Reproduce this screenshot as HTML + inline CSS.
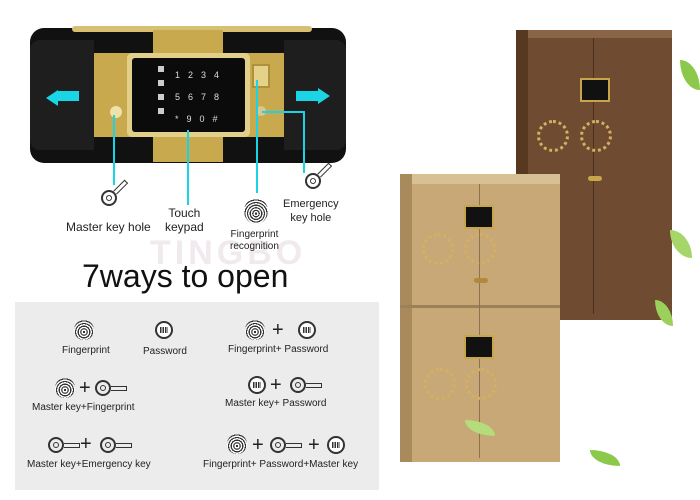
<!DOCTYPE html>
<html><head><style>
body{margin:0;width:700px;height:500px;background:#fff;position:relative;overflow:hidden;font-family:"Liberation Sans",sans-serif;color:#222}
.a{position:absolute}
.t{position:absolute;font-size:11px;white-space:nowrap;text-align:center}
.fp{position:absolute;width:20px;height:20px;border-radius:50%;background:repeating-radial-gradient(circle at 50% 60%,#333 0 1.2px,#fff 1.2px 2.6px)}
.pw{position:absolute;width:18px;height:18px;border-radius:50%;border:2px solid #333;box-sizing:border-box;background:#fff}
.pw:after{content:"";position:absolute;left:3px;top:4px;width:8px;height:6px;background:repeating-linear-gradient(90deg,#333 0 1.5px,#fff 1.5px 2.5px)}
.ky{position:absolute;width:16px;height:16px;border-radius:50%;border:2px solid #333;box-sizing:border-box}
.ky:before{content:"";position:absolute;left:3px;top:3px;width:6px;height:6px;border-radius:50%;border:1.5px solid #333;box-sizing:border-box}
.ky:after{content:"";position:absolute;left:14px;top:4px;width:16px;height:5px;border:1.5px solid #333;border-left:none;box-sizing:border-box}
.pl{position:absolute;font-size:20px;line-height:20px}
.cy{position:absolute;background:#19d3e6}
</style></head><body>
<div class="a" style="left:30px;top:28px;width:316px;height:135px;background:#111;border-radius:14px"></div>
<div class="a" style="left:30px;top:40px;width:64px;height:110px;background:#1e1e1e;border-radius:10px 0 0 10px"></div>
<div class="a" style="left:284px;top:40px;width:62px;height:110px;background:#1e1e1e;border-radius:0 10px 10px 0"></div>
<div class="a" style="left:72px;top:26px;width:240px;height:6px;background:#d8c072;border-radius:3px"></div>
<div class="a" style="left:94px;top:53px;width:190px;height:84px;background:#c9a94e"></div>
<div class="a" style="left:153px;top:30px;width:70px;height:132px;background:#c9a94e"></div>
<div class="a" style="left:127px;top:53px;width:123px;height:84px;background:#e2d08a;border-radius:5px"></div>
<div class="a" style="left:132px;top:58px;width:113px;height:74px;background:#0b0b0b;border-radius:3px"></div>
<div class="a" style="left:175px;top:64px;color:#ddd;font-size:9px;line-height:22px;letter-spacing:8px">1234<br>5678<br>*90#</div>
<div class="a" style="left:158px;top:66px;width:6px;height:50px;background:repeating-linear-gradient(#ccc 0 6px,#0b0b0b 6px 14px)"></div>
<div class="a" style="left:252px;top:64px;width:14px;height:20px;background:#e5d28a;border:2px solid #b0903a"></div>
<div class="a" style="left:110px;top:106px;width:12px;height:12px;border-radius:50%;background:#eee2a8"></div>
<div class="a" style="left:256px;top:106px;width:10px;height:10px;border-radius:50%;background:#d9c88a"></div>
<div class="a" style="left:46px;top:90px;width:0;height:0;border:8px solid transparent;border-right:12px solid #1ad5e6;border-left:none"></div>
<div class="a" style="left:57px;top:91px;width:22px;height:10px;background:#1ad5e6"></div>
<div class="a" style="left:296px;top:91px;width:22px;height:10px;background:#1ad5e6"></div>
<div class="a" style="left:318px;top:88px;width:0;height:0;border:8px solid transparent;border-left:12px solid #1ad5e6;border-right:none"></div>
<div class="cy" style="left:113px;top:115px;width:2px;height:70px"></div>
<div class="cy" style="left:187px;top:130px;width:2px;height:75px"></div>
<div class="cy" style="left:256px;top:80px;width:2px;height:113px"></div>
<div class="cy" style="left:262px;top:111px;width:42px;height:2px"></div>
<div class="cy" style="left:303px;top:111px;width:2px;height:62px"></div>
<div class="t" style="left:150px;top:234px;font-size:34px;color:#f0eaee;font-weight:bold;letter-spacing:4px">TINGBO</div>
<div class="ky" style="left:101px;top:190px;transform:rotate(-45deg)"></div>
<div class="t" style="left:66px;top:220px;font-size:12px">Master key hole</div>
<div class="t" style="left:165px;top:206px;font-size:12px;line-height:14px">Touch<br>keypad</div>
<div class="fp" style="left:244px;top:198px;width:24px;height:26px"></div>
<div class="t" style="left:230px;top:229px;font-size:10px;line-height:12px">Fingerprint<br>recognition</div>
<div class="ky" style="left:305px;top:173px;transform:rotate(-45deg)"></div>
<div class="t" style="left:283px;top:197px;font-size:11px;line-height:14px">Emergency<br>key hole</div>
<div class="t" style="left:82px;top:258px;font-size:32px;color:#111">7ways to open</div>
<div class="a" style="left:15px;top:302px;width:364px;height:188px;background:#ececec"></div>
<div class="fp" style="left:74px;top:320px"></div><div class="t" style="left:62px;top:345px;font-size:10px">Fingerprint</div>
<div class="pw" style="left:155px;top:321px"></div><div class="t" style="left:143px;top:346px;font-size:10px">Password</div>
<div class="fp" style="left:245px;top:320px"></div><div class="pl" style="left:272px;top:320px">+</div><div class="pw" style="left:298px;top:321px"></div>
<div class="t" style="left:228px;top:344px;font-size:10px">Fingerprint+ Password</div>
<div class="fp" style="left:55px;top:378px"></div><div class="pl" style="left:79px;top:378px">+</div><div class="ky" style="left:95px;top:380px"></div>
<div class="t" style="left:32px;top:402px;font-size:10px">Master key+Fingerprint</div>
<div class="pw" style="left:248px;top:376px"></div><div class="pl" style="left:270px;top:375px">+</div><div class="ky" style="left:290px;top:377px"></div>
<div class="t" style="left:225px;top:398px;font-size:10px">Master key+ Password</div>
<div class="ky" style="left:48px;top:437px"></div><div class="pl" style="left:80px;top:434px">+</div><div class="ky" style="left:100px;top:437px"></div>
<div class="t" style="left:27px;top:459px;font-size:10px">Master key+Emergency key</div>
<div class="fp" style="left:227px;top:434px"></div><div class="pl" style="left:252px;top:435px">+</div><div class="ky" style="left:270px;top:437px"></div><div class="pl" style="left:308px;top:435px">+</div><div class="pw" style="left:327px;top:436px"></div>
<div class="t" style="left:203px;top:459px;font-size:10px">Fingerprint+ Password+Master key</div>
<div class="a" style="left:516px;top:30px;width:156px;height:290px;background:#6f4b31"></div>
<div class="a" style="left:516px;top:30px;width:156px;height:8px;background:#8a6446"></div>
<div class="a" style="left:516px;top:30px;width:12px;height:290px;background:#57391f"></div>
<div class="a" style="left:593px;top:38px;width:1px;height:276px;background:#4a3020"></div>
<div class="a" style="left:580px;top:78px;width:26px;height:20px;background:#111;border:2px solid #c9a54a"></div>
<div class="a" style="left:537px;top:120px;width:26px;height:26px;border-radius:50%;border:3px dotted #d4b060"></div>
<div class="a" style="left:580px;top:120px;width:26px;height:26px;border-radius:50%;border:3px dotted #d4b060"></div>
<div class="a" style="left:588px;top:176px;width:14px;height:5px;background:#c9a54a;border-radius:3px"></div>
<div class="a" style="left:400px;top:174px;width:160px;height:288px;background:#c7a876"></div>
<div class="a" style="left:400px;top:174px;width:160px;height:10px;background:#d8c095"></div>
<div class="a" style="left:400px;top:174px;width:12px;height:288px;background:#a88a5c"></div>
<div class="a" style="left:400px;top:305px;width:160px;height:3px;background:#9c8058"></div>
<div class="a" style="left:479px;top:184px;width:1px;height:274px;background:#8c7250"></div>
<div class="a" style="left:464px;top:205px;width:26px;height:20px;background:#111;border:2px solid #c9a54a"></div>
<div class="a" style="left:464px;top:335px;width:26px;height:20px;background:#111;border:2px solid #c9a54a"></div>
<div class="a" style="left:422px;top:233px;width:26px;height:26px;border-radius:50%;border:3px dotted #d4b060"></div>
<div class="a" style="left:464px;top:233px;width:26px;height:26px;border-radius:50%;border:3px dotted #d4b060"></div>
<div class="a" style="left:424px;top:368px;width:26px;height:26px;border-radius:50%;border:3px dotted #d4b060"></div>
<div class="a" style="left:465px;top:368px;width:26px;height:26px;border-radius:50%;border:3px dotted #d4b060"></div>
<div class="a" style="left:474px;top:278px;width:14px;height:5px;background:#b08a3a;border-radius:3px"></div>
<div class="a" style="left:680px;top:60px;width:20px;height:30px;background:#8cc84b;border-radius:0 100%"></div>
<div class="a" style="left:655px;top:300px;width:18px;height:26px;background:#9bd05a;border-radius:0 100%"></div>
<div class="a" style="left:590px;top:450px;width:30px;height:16px;background:#8cc84b;border-radius:0 100%"></div>
<div class="a" style="left:670px;top:230px;width:22px;height:28px;background:#a6d66a;border-radius:0 100%"></div>
<div class="a" style="left:465px;top:420px;width:30px;height:16px;background:#b5dc7a;border-radius:0 100%"></div>
</body></html>
